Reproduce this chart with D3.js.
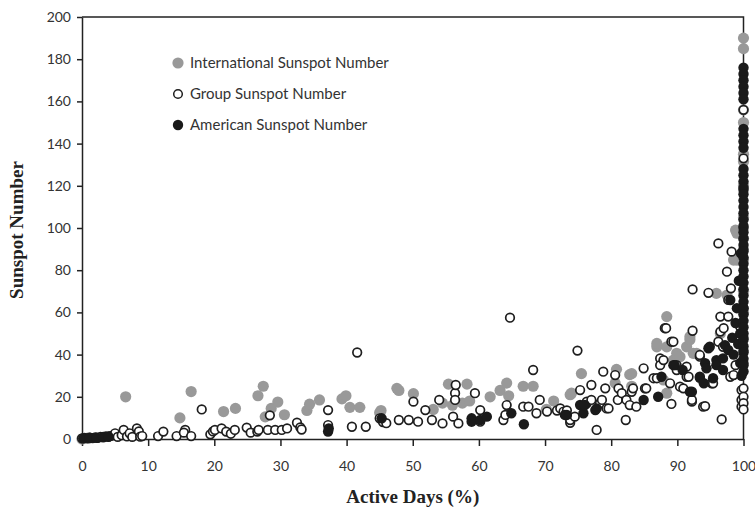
<!DOCTYPE html>
<html><head><meta charset="utf-8">
<script src="https://cdn.jsdelivr.net/npm/d3@7"></script>
<style>body{margin:0;background:#fff}</style>
</head><body>
<svg id="c" width="755" height="508"></svg>
<script>
const xTicks = [0,10,20,30,40,50,60,70,80,90,100];
const yTicks = [0,20,40,60,80,100,120,140,160,180,200];
const seriesNames = ["International Sunspot Number","Group Sunspot Number","American Sunspot Number"];
const xTitle = "Active Days (%)";
const yTitle = "Sunspot Number";

const internationalPoints = [
[0,0],[1,0.5],
[6.6,20],[14.8,10],[16.5,22.5],[21.4,13],[23.2,14.5],[26.6,20.5],[27.4,25],[27.7,10.5],[28.6,14.5],[29.6,17.5],[30.6,11.5],[34,13.5],[34.4,16.5],[35.9,18.5],[39.3,19],[39.9,20.5],[40.5,15],[42,15],[45,12.5],[45.2,13.5],[47.6,24],[47.9,23],[50.1,21.5],[53.1,14],[54.5,17],[55.4,26],[56,16],[57.5,17],[58.2,26],[58.6,18],[61.7,20],[63.2,23],[64.2,26.5],[64.5,20.5],[66.7,25],[68.2,25],[70.2,14],[71.3,18],[73.8,21],[74,21.7],[75.5,31],[80.6,26.5],[80.8,33],[82.8,30.5],[83.1,31],[83.1,25],[86.9,43.7],[86.9,45.3],[87.9,28],[88.4,43.7],[88.4,21.7],[88.4,58],[89.4,37.4],[89.9,40.6],[90.4,39],[91.4,43.7],[91.9,47],[91.9,48.5],[92.4,40.6],[92.9,40.6],[95.9,69],[96.5,50],[97.5,68.2],[98.5,84.8],[98.8,99],[99,97.5],[99,84.8],
[100,190],[100,185],[100,156],[100,150],[100,135],[100,131.5],[100,120],[100,105],[100,95],[100,85],[100,70],[100,60]
];

const groupPoints = [
[0,0.3],[0.4,0.5],[0.8,0.3],[1.2,0.6],[1.6,0.4],[2,0.8],[2.4,0.5],[2.8,1],[3.2,0.8],[3.6,1.2],[4,1],[4.4,1.5],[5,2.7],[5.4,1],[6,1.8],[6.3,4.3],[6.8,1.2],[7.2,2.7],[7.6,1],[8.3,5],[8.6,3.6],[8.8,1.1],[9.1,1.4],
[11.5,1.4],[12.3,3.5],[14.3,1.4],[15.6,4.3],[15.4,3],[16.5,1.4],[18.1,14],[19.4,2.2],[19.8,3.6],[20.1,4.3],[21.1,5],[21.8,3.5],[22.5,2.5],[23.1,4.3],[24.9,5.4],[25.5,3],[26.5,3.5],[26.7,4.3],[28.1,4.3],[28.4,11.2],[29.2,4.3],[30.2,4.3],[31,5],[32.5,7.7],[33,5.5],[33.2,4.5],[37.2,13.7],[37.2,6.6],[40.8,5.8],[41.6,41],[42.9,5.8],[45,9.8],[45.5,8],[46,7.5],[47.9,9],[49.4,9],[50.1,17.7],[50.8,8.2],[51.9,13.7],[52.9,9],[54,18.5],[54.5,7.4],[56.1,10.6],[56.4,21.7],[56.5,25.6],[56.4,18.5],[56.9,7.4],[59.4,21.7],[60.2,13.7],[60.2,8.2],[63.7,9],[64,11.4],[64.2,16.1],[64.7,57.5],[66.7,15.3],[67.5,15.3],[68.2,32.7],[68.7,12.2],[69.2,18.5],[70.3,13],[71.8,13.5],[72.3,14.5],[72.8,13],[73.3,13.5],[73.8,7.7],[73.8,9],[74.5,10.6],[74.9,41.9],[75.3,23.2],[76.3,16.9],[76.3,17.7],[77,25.6],[77,18.5],[77.8,4.3],[78.3,16.9],[78.6,18.5],[78.8,31.9],[79.1,24],[79.3,14.5],[79.6,14.5],[80.6,30.3],[81,18.5],[81.1,24],[81.6,21.7],[82.2,9],[82.3,18.5],[82.8,16.1],[83.1,22.4],[83.3,24],[83.8,15.3],[84.9,33.5],[85.1,24],[85.3,24],[86.4,28.8],[86.9,28.8],[87.4,38.2],[87.4,35],[87.9,37.4],[88.1,52.5],[88.3,52.5],[88.9,26.4],[89.1,16.6],[89.1,46.1],[89.4,46.1],[89.9,32.7],[89.9,35],[90.4,24.8],[90.9,24],[91.4,34.3],[91.4,29.5],[91.7,29.5],[92.2,17.7],[92.2,18.5],[92.3,70.9],[92.3,51.3],[93.4,39],[93.4,39.8],[93.9,15.3],[94.2,15.6],[94.7,69.3],[95.2,26.4],[95.4,26.4],[96.2,92.7],[96.2,46.1],[96.5,58],[96.5,50.9],[96.7,9.3],[96.9,43.7],[97,52.5],[97.5,79.3],[97.7,65.9],[97.7,58],[98,29.5],[98.1,71.4],[98.2,88.8],[98.5,30.3],[98.8,35],[99.5,53.2],[99.7,23.2],[99.7,18.5],[99.7,15.3],
[100,24],[100,20],[100,17],[100,14],[100,36],[100,42],[100,156],[100,133],[100,118],[100,100],[100,90],[100,62],[100,48]
];

const americanPoints = [
[0.2,0.3],[1.2,0.5],[2.2,0.6],[3.2,1],[4,1.2],[37.2,3.5],[37.3,5],[45.3,9.8],[58.9,9.8],[58.9,8.2],[60.2,9],[61.2,10.6],[64.9,12.2],[66.8,7],[73.3,11.4],[73,11.4],[75.3,16.1],[75.8,12.2],[76,16.1],[77.6,13.7],[77.8,14.5],[84.9,18.5],[87.1,20],[87.6,29.5],[89.4,35],[89.6,35],[90.8,32.7],[91.9,22.4],[92.2,22.4],[93.4,29.5],[93.4,29],[94,26.4],[94.2,35.9],[94.4,33.5],[94.7,43],[94.9,43.7],[95.4,28.8],[95.9,37.4],[95.9,35],[96.9,32.7],[96.9,38.2],[97.2,44.5],[97.7,42.2],[98,65.9],[98.3,48],[98.5,40],[98.8,55],[99,62],[99.2,45],[99.3,75],[99.5,36],[99.5,50],[99.6,88],[99.7,30],
[100,176],[100,173],[100,170],[100,167],[100,164],[100,161],[100,147],[100,144],[100,141],[100,138],[100,128],[100,125],[100,122],[100,119],[100,116],[100,113],[100,110],[100,107],[100,104],[100,101],[100,98],[100,95],[100,92],[100,89],[100,86],[100,83],[100,80],[100,77],[100,74],[100,71],[100,68],[100,65],[100,62],[100,59],[100,56],[100,53],[100,50],[100,47],[100,44],[100,41],[100,38],[100,35],[100,32]
];

const svg = d3.select('#c');
const x = d3.scaleLinear().domain([0,100]).range([82,743.5]);
const y = d3.scaleLinear().domain([0,200]).range([439,17]);
const tickFont = "Lato, 'Open Sans', sans-serif";

// frame (top and right)
svg.append('path')
  .attr('d', `M${x(0)},${y(200)}H${x(100)}V${y(0)}`)
  .attr('fill','none').attr('stroke','#222').attr('stroke-width',1.5);

const gx = svg.append('g').attr('transform',`translate(0,${y(0)})`)
  .call(d3.axisBottom(x).tickValues(xTicks).tickSizeInner(7).tickSizeOuter(0).tickPadding(15));
const gy = svg.append('g').attr('transform',`translate(${x(0)},0)`)
  .call(d3.axisLeft(y).tickValues(yTicks).tickSizeInner(5).tickSizeOuter(0).tickPadding(6));
[gx,gy].forEach(g=>{
  g.select('.domain').attr('stroke','#222').attr('stroke-width',1.5);
  g.selectAll('.tick line').attr('stroke','#222').attr('stroke-width',1.5);
  g.selectAll('.tick text').attr('fill','#333').style('font-family',tickFont).style('font-size','14px');
});

// points
svg.append('g').selectAll('circle').data(internationalPoints).join('circle')
  .attr('cx',d=>x(d[0])).attr('cy',d=>y(d[1])).attr('r',5.6).attr('fill','#999');
svg.append('g').selectAll('circle').data(groupPoints).join('circle')
  .attr('cx',d=>x(d[0])).attr('cy',d=>y(d[1])).attr('r',4.3)
  .attr('fill','#fff').attr('stroke','#1e1e1e').attr('stroke-width',1.7);
svg.append('g').selectAll('circle').data(americanPoints).join('circle')
  .attr('cx',d=>x(d[0])).attr('cy',d=>y(d[1])).attr('r',5.2).attr('fill','#1a1a1a');

// legend
const legY = [63,94,125];
const leg = svg.append('g');
seriesNames.forEach((name,i)=>{
  const c = leg.append('circle').attr('cx',178).attr('cy',legY[i]);
  if(i===0) c.attr('r',5.6).attr('fill','#999');
  if(i===1) c.attr('r',4.3).attr('fill','#fff').attr('stroke','#1e1e1e').attr('stroke-width',1.5);
  if(i===2) c.attr('r',5.2).attr('fill','#1a1a1a');
  leg.append('text').attr('x',190).attr('y',legY[i]).attr('dy','0.35em')
    .attr('fill','#333').style('font-family',tickFont).style('font-size','15px').text(name);
});

// axis titles
svg.append('text').attr('x',(x(0)+x(100))/2).attr('y',503)
  .attr('text-anchor','middle').style('font-family',"'Liberation Serif', 'Times New Roman', serif")
  .style('font-weight','bold').style('font-size','19px').attr('fill','#222').text(xTitle);
svg.append('text').attr('transform','translate(23,230) rotate(-90)')
  .attr('text-anchor','middle').style('font-family',"'Liberation Serif', 'Times New Roman', serif")
  .style('font-weight','bold').style('font-size','19px').attr('fill','#222').text(yTitle);
</script>
</body></html>
